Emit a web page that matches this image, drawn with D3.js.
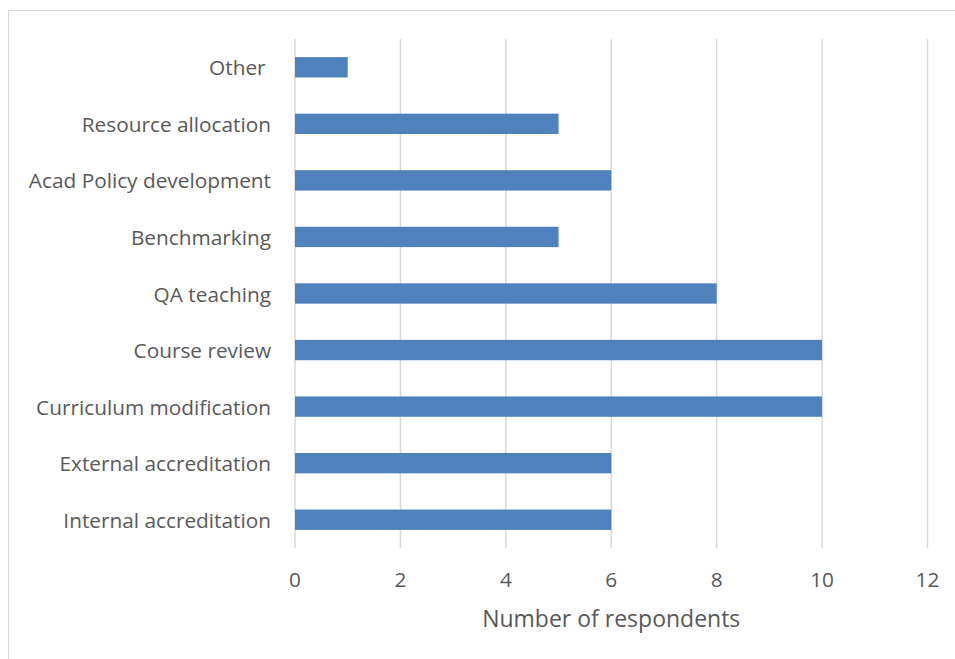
<!DOCTYPE html>
<html>
<head>
<meta charset="utf-8">
<script src="https://cdn.jsdelivr.net/npm/d3@7"></script>
<style>
  html, body { margin: 0; padding: 0; background: #fff; }
  svg { display: block; }
  text { font-family: "Open Sans", sans-serif; fill: #595959; white-space: pre; }
</style>
</head>
<body>
<svg id="chart" width="955" height="659"></svg>
<script>
// Uses of the results, top to bottom
const categories = [
  "Other ",
  "Resource allocation",
  "Acad Policy development",
  "Benchmarking",
  "QA teaching",
  "Course review",
  "Curriculum modification",
  "External accreditation",
  "Internal accreditation"
];
const respondents = [1, 5, 6, 5, 8, 10, 10, 6, 6];
const xTicks = [0, 2, 4, 6, 8, 10, 12];
const xTitle = "Number of respondents";

const svg = d3.select("#chart");
const W = 955, H = 659;

// outer chart frame (cropped at right and bottom)
svg.append("rect")
  .attr("x", 8.5).attr("y", 10.5)
  .attr("width", W + 20).attr("height", H + 20)
  .attr("fill", "#fff").attr("stroke", "#d9d9d9").attr("stroke-width", 1);

const plot = { left: 295, right: 927.5, top: 39, bottom: 548 };

const x = d3.scaleLinear().domain([0, 12]).range([plot.left, plot.right]);
const y = d3.scaleBand().domain(categories).range([plot.top, plot.bottom]).paddingInner(0.64).paddingOuter(0.32);

// vertical gridlines
svg.append("g")
  .selectAll("line")
  .data(xTicks)
  .join("line")
  .attr("x1", d => x(d)).attr("x2", d => x(d))
  .attr("y1", plot.top).attr("y2", plot.bottom)
  .attr("stroke", "#d9d9d9").attr("stroke-width", 1.5);

// bars
svg.append("g")
  .selectAll("rect")
  .data(categories)
  .join("rect")
  .attr("x", x(0))
  .attr("y", d => y(d))
  .attr("width", (d, i) => x(respondents[i]) - x(0))
  .attr("height", y.bandwidth())
  .attr("fill", "#4f81bd");

// category labels
svg.append("g")
  .selectAll("text")
  .data(categories)
  .join("text")
  .attr("x", plot.left - 24)
  .attr("y", d => y(d) + y.bandwidth() / 2)
  .attr("text-anchor", "end")
  .attr("dominant-baseline", "central")
  .attr("font-size", 20.8)
  .text(d => d);

// x tick labels
svg.append("g")
  .selectAll("text")
  .data(xTicks)
  .join("text")
  .attr("x", d => x(d))
  .attr("y", 579)
  .attr("text-anchor", "middle")
  .attr("dominant-baseline", "central")
  .attr("font-size", 20.8)
  .text(d => d);

// axis title
svg.append("text")
  .attr("x", (plot.left + plot.right) / 2)
  .attr("y", 618)
  .attr("text-anchor", "middle")
  .attr("dominant-baseline", "central")
  .attr("font-size", 23)
  .text(xTitle);
</script>
</body>
</html>
